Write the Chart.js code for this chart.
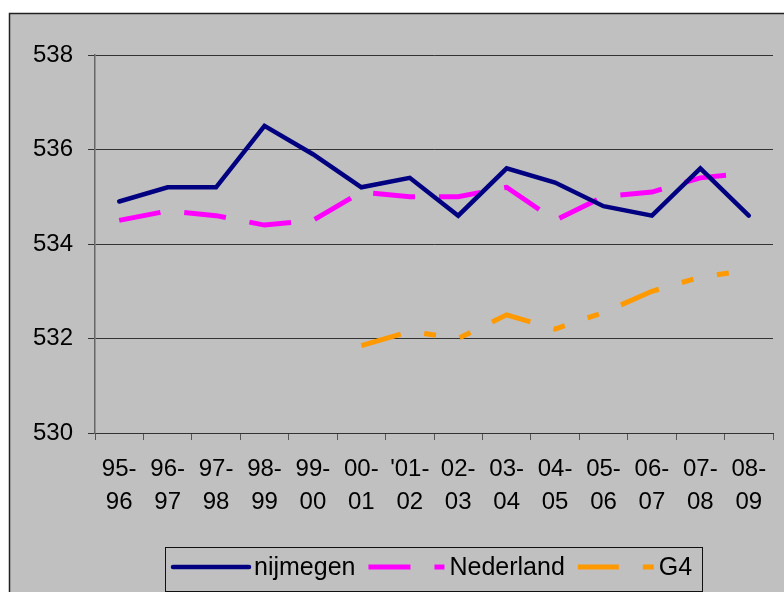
<!DOCTYPE html>
<html>
<head>
<meta charset="utf-8">
<script src="https://cdn.jsdelivr.net/npm/chart.js@4/dist/chart.umd.min.js"></script>
<style>
    body { margin: 0; background: #ffffff; }
    #wrap { width: 784px; height: 592px; }
</style>
</head>
<body>
<div id="wrap"><canvas id="scoreChart" width="784" height="592"></canvas></div>
<script>
var years = [["95-", "96"], ["96-", "97"], ["97-", "98"], ["98-", "99"], ["99-", "00"], ["00-", "01"], ["'01-", "02"],
    ["02-", "03"], ["03-", "04"], ["04-", "05"], ["05-", "06"], ["06-", "07"], ["07-", "08"], ["08-", "09"]];
var nijmegen = [534.9, 535.2, 535.2, 536.5, 535.9, 535.2, 535.4, 534.6, 535.6, 535.3, 534.8, 534.6, 535.6, 534.6];
var nederland = [534.5, 534.7, 534.6, 534.4, 534.5, 535.1, 535.0, 535.0, 535.2, 534.5, 535.0, 535.1, 535.4, 535.5];
var g4 = [null, null, null, null, null, 531.85, 532.15, 532.0, 532.5, 532.2, 532.55, 533.0, 533.3, 533.45];
var yTicks = [530, 532, 534, 536, 538];

var FONT = "'Liberation Sans', Arial, sans-serif";

// grey frame behind everything, and the boxed legend at the bottom
var framePlugin = {
    id: 'frame',
    beforeDraw: function(chart) {
        var ctx = chart.ctx;
        ctx.save();
        ctx.fillStyle = '#ffffff';
        ctx.fillRect(0, 0, chart.width, chart.height);
        ctx.fillStyle = '#c0c0c0';
        ctx.fillRect(9, 13, chart.width - 9, chart.height - 13);
        ctx.strokeStyle = '#222222';
        ctx.lineWidth = 1.5;
        ctx.beginPath();
        ctx.moveTo(9.5, chart.height);
        ctx.lineTo(9.5, 13.5);
        ctx.lineTo(chart.width, 13.5);
        ctx.stroke();
        ctx.restore();
    },
    afterDraw: function(chart) {
        var ctx = chart.ctx;
        ctx.save();
        ctx.strokeStyle = '#111111';
        ctx.lineWidth = 1;
        ctx.strokeRect(165.5, 547.5, 537, 44);

        ctx.font = '25px ' + FONT;
        ctx.textBaseline = 'middle';
        var x = 173;
        var y = 567;
        chart.data.datasets.forEach(function(ds) {
            ctx.strokeStyle = ds.borderColor;
            ctx.lineWidth = ds.borderWidth;
            ctx.lineCap = ds.borderCapStyle;
            ctx.setLineDash(ds.borderDash || []);
            ctx.beginPath();
            ctx.moveTo(x, y);
            ctx.lineTo(x + 76, y);
            ctx.stroke();
            ctx.setLineDash([]);
            ctx.fillStyle = '#000000';
            ctx.fillText(ds.label, x + 81, y + 1);
            x = x + 81 + ctx.measureText(ds.label).width + 13;
        });
        ctx.restore();
    }
};

var ctx = document.getElementById("scoreChart").getContext("2d");
var scoreChart = new Chart(ctx, {
    type: 'line',
    data: {
        labels: years,
        datasets: [{
            label: 'nijmegen',
            data: nijmegen,
            borderColor: '#000080',
            borderWidth: 4.5,
            borderCapStyle: 'round',
            borderJoinStyle: 'miter'
        }, {
            label: 'Nederland',
            data: nederland,
            borderColor: '#ff00ff',
            borderWidth: 5,
            borderDash: [42, 24],
            borderCapStyle: 'butt',
            borderJoinStyle: 'miter'
        }, {
            label: 'G4',
            data: g4,
            borderColor: '#ff9900',
            borderWidth: 5,
            borderDash: [41, 24, 12, 24, 12, 24],
            borderCapStyle: 'butt',
            borderJoinStyle: 'miter'
        }]
    },
    options: {
        responsive: false,
        animation: false,
        events: [],
        layout: {
            padding: { left: 0, top: 55, right: 11, bottom: 0 }
        },
        elements: {
            line: { tension: 0, fill: false },
            point: { radius: 0 }
        },
        scales: {
            x: {
                offset: true,
                afterFit: function(scale) { scale.height = 159; },
                grid: {
                    offset: true,
                    drawOnChartArea: false,
                    tickLength: 7,
                    color: '#555555',
                    lineWidth: 1
                },
                border: { color: '#333333', width: 1 },
                ticks: {
                    autoSkip: false,
                    maxRotation: 0,
                    padding: 13,
                    color: '#000000',
                    font: { family: FONT, size: 24, lineHeight: 1.36 }
                }
            },
            y: {
                min: yTicks[0],
                max: yTicks[yTicks.length - 1],
                afterFit: function(scale) { scale.width = 95; },
                afterBuildTicks: function(scale) {
                    scale.ticks = yTicks.map(function(v) { return { value: v }; });
                },
                grid: {
                    color: '#333333',
                    lineWidth: 1,
                    tickLength: 7
                },
                border: { color: '#666666', width: 1.5 },
                ticks: {
                    padding: 15,
                    color: '#000000',
                    font: { family: FONT, size: 24 }
                }
            }
        },
        plugins: {
            legend: { display: false },
            tooltip: { enabled: false }
        }
    },
    plugins: [framePlugin]
});
</script>
</body>
</html>
